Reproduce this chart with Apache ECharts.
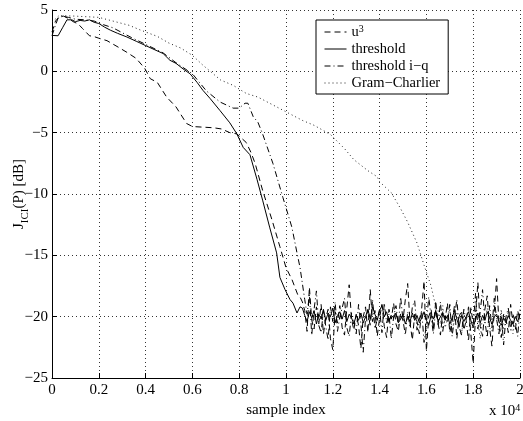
<!DOCTYPE html>
<html>
<head>
<meta charset="utf-8">
<script src="https://cdn.jsdelivr.net/npm/echarts@6/dist/echarts.min.js"></script>
<style>
    html, body { margin: 0; padding: 0; background: #fff; }
    #chart { width: 523px; height: 421px; }
</style>
</head>
<body>
<div id="chart"></div>
<script>
// sample indices shared by the noise floor part of the curves
const noiseX = [
    10700, 10800, 10900, 11000, 11100, 11200, 11300, 11400, 11500, 11600,
    11700, 11800, 11900, 12000, 12100, 12200, 12300, 12400, 12500, 12600,
    12700, 12800, 12900, 13000, 13100, 13200, 13300, 13400, 13500, 13600,
    13700, 13800, 13900, 14000, 14100, 14200, 14300, 14400, 14500, 14600,
    14700, 14800, 14900, 15000, 15100, 15200, 15300, 15400, 15500, 15600,
    15700, 15800, 15900, 16000, 16100, 16200, 16300, 16400, 16500, 16600,
    16700, 16800, 16900, 17000, 17100, 17200, 17300, 17400, 17500, 17600,
    17700, 17800, 17900, 18000, 18100, 18200, 18300, 18400, 18500, 18600,
    18700, 18800, 18900, 19000, 19100, 19200, 19300, 19400, 19500, 19600,
    19700, 19800, 19900, 20000,
]

// u^3 (dashed)
const u3X = [0, 150, 290, 500, 700, 950, 1100, 1300, 1600, 1770, 2000, 2350, 2850, 3200, 3600, 3960, 4200, 4500, 4900, 5300,
    5750, 6000, 6450, 6900, 7250, 7600, 7900, 8300, 8500, 8680, 9000, 9400, 9740, 10000, 10260, 10500, 10600]
const u3Y = [3.2, 4.1, 4.4, 4.5, 4.3, 4.0, 3.9, 3.5, 2.9, 2.85, 2.7, 2.5, 1.95, 1.55, 1.05, 0.25, -0.6, -0.9, -2.1, -2.9,
    -4.25, -4.5, -4.55, -4.6, -4.7, -5.0, -5.1, -5.8, -6.6, -7.5, -9.7, -12.1, -14.3, -16.0, -17.0, -18.2, -18.4]
const u3Noise = [
    -18.8, -19.5, -21.2, -17.6, -20.3, -21.0, -19.2, -20.6, -19.0, -21.4,
    -20.1, -19.4, -21.8, -22.7, -19.6, -20.5, -19.1, -20.9, -21.5, -19.3,
    -17.4, -20.2, -21.1, -19.8, -20.7, -22.6, -20.0, -19.2, -21.3, -17.8,
    -20.4, -19.5, -21.6, -20.1, -19.0, -20.8, -21.7, -19.4, -20.2, -18.9,
    -20.6, -21.2, -19.7, -20.3, -18.6, -17.3, -20.5, -21.9, -19.8, -20.4,
    -21.4, -19.3, -17.1, -22.8, -20.0, -19.4, -21.0, -18.7, -20.6, -21.5,
    -19.6, -20.2, -18.9, -21.3, -20.4, -19.1, -21.8, -20.0, -19.5, -21.1,
    -20.3, -19.2, -21.4, -23.8, -19.9, -17.2, -20.8, -21.6, -19.4, -18.3,
    -20.9, -22.4, -19.6, -16.9, -20.5, -21.7, -19.8, -20.2, -21.3, -19.0,
    -20.6, -21.1, -19.5, -20.3,
]

// threshold (solid)
const thrX = [0, 260, 450, 640, 850, 1000, 1200, 1400, 1600, 1800, 2000, 2250, 2500, 2800, 3200, 3600, 4000, 4400, 4750, 5040,
    5300, 5600, 5900, 6200, 6450, 6750, 7180, 7600, 7900, 8170, 8460, 8760, 9000, 9300, 9600, 9740, 9960, 10170, 10300, 10470, 10600]
const thrY = [2.93, 2.9, 3.55, 4.2, 4.2, 4.05, 4.15, 4.1, 4.2, 4.0, 3.9, 3.6, 3.35, 3.1, 2.8, 2.45, 2.1, 1.75, 1.45, 0.9,
    0.65, 0.2, -0.2, -0.9, -1.55, -2.2, -3.2, -4.2, -5.1, -6.2, -6.8, -8.8, -10.5, -12.7, -14.8, -16.8, -17.8, -18.6, -18.9, -19.7, -19.2]
const thrNoise = [
    -19.3, -19.9, -20.4, -19.6, -20.1, -19.5, -20.6, -19.8, -20.2, -19.4,
    -20.3, -19.7, -20.0, -19.3, -20.5, -19.9, -19.6, -20.2, -19.5, -20.4,
    -19.8, -20.1, -20.6, -19.9, -20.3, -19.7, -20.5, -20.0, -19.4, -20.2,
    -19.2, -19.8, -20.3, -19.5, -19.1, -20.0, -19.6, -20.4, -19.9, -20.1,
    -19.7, -20.5, -20.2, -19.8, -20.6, -20.0, -20.4, -19.7, -20.3, -19.9,
    -20.5, -20.1, -19.6, -20.3, -20.7, -19.9, -20.2, -19.5, -20.4, -20.0,
    -19.7, -20.3, -19.9, -20.6, -20.1, -19.5, -20.2, -20.8, -19.9, -20.4,
    -20.0, -19.6, -20.3, -20.9, -20.2, -19.7, -20.5, -19.9, -20.3, -19.6,
    -20.1, -20.6, -20.0, -19.8, -20.4, -20.7, -20.1, -20.5, -19.9, -20.3,
    -20.6, -20.0, -20.4, -19.8,
]

// threshold i-q (dash-dot)
const iqX = [0, 120, 250, 450, 700, 1000, 1400, 1800, 2200, 2600, 3000, 3400, 4000, 4750, 5300, 6000, 6600, 7180, 7740, 8000,
    8250, 8370, 8600, 8800, 9000, 9440, 9870, 10250, 10470, 10600]
const iqY = [2.9, 3.6, 4.3, 4.5, 4.4, 4.25, 4.2, 4.1, 3.8, 3.55, 3.15, 2.75, 2.2, 1.5, 0.7, -0.2, -1.6, -2.5, -3.0, -3.0,
    -2.6, -2.6, -3.7, -4.15, -5.1, -7.5, -10.3, -12.7, -14.8, -16.0]
const iqNoise = [
    -17.3, -18.6, -19.8, -18.2, -21.5, -19.4, -17.9, -20.7, -21.3, -19.5,
    -20.8, -21.9, -19.2, -20.4, -18.8, -21.2, -20.0, -19.3, -18.5, -20.9,
    -21.6, -19.7, -20.3, -21.4, -19.0, -20.6, -22.9, -20.1, -19.5, -20.8,
    -18.6, -21.0, -20.2, -19.4, -21.3, -18.9, -20.5, -19.8, -21.8, -20.0,
    -19.1, -20.7, -18.4, -20.3, -21.5, -19.6, -20.9, -19.2, -18.7, -21.1,
    -20.2, -19.5, -22.1, -20.6, -18.4, -20.0, -21.4, -19.3, -20.7, -18.8,
    -21.2, -19.9, -20.5, -19.0, -21.6, -20.1, -18.6, -20.8, -21.5, -19.4,
    -20.3, -22.0, -19.2, -20.7, -18.1, -21.0, -19.6, -17.8, -20.4, -21.7,
    -19.1, -20.9, -18.5, -20.2, -21.4, -19.7, -22.3, -20.0, -19.3, -21.1,
    -19.8, -20.5, -21.6, -19.4,
]

// Gram-Charlier (dotted), noise part starts at 16500
const gcX = [0, 300, 1000, 2000, 3000, 3300, 3800, 4500, 5000, 5500, 6000, 6450, 7200, 7750, 8300, 8800, 9300, 10300, 10700, 11200,
    11900, 12500, 12900, 13500, 13900, 14000, 14500, 14900, 15200, 15600, 15900, 16200, 16400]
const gcY = [4.0, 4.55, 4.5, 4.4, 3.9, 3.75, 3.35, 2.85, 2.3, 1.9, 1.3, 0.5, -0.7, -1.15, -1.8, -2.1, -2.6, -3.6, -4.0, -4.4,
    -5.15, -6.3, -7.2, -8.1, -8.6, -9.0, -9.9, -11.2, -12.3, -14.0, -15.8, -17.5, -19.2]
const gcNoiseStart = 16500
const gcNoise = [
    -19.5, -20.6, -19.1, -20.9, -20.2, -19.4, -21.3, -20.0, -19.6, -20.8,
    -21.5, -19.8, -20.3, -19.2, -20.7, -21.0, -19.5, -20.4, -21.8, -19.9,
    -20.5, -19.3, -20.9, -21.2, -19.7, -20.1, -20.8, -19.4, -21.1, -20.3,
    -19.6, -20.7, -21.4, -19.9, -20.5, -20.2,
]

const seriesNames = ['u3', 'threshold', 'threshold i\u2212q', 'Gram\u2212Charlier']

const yTicks = { min: -25, max: 5, step: 5 }
const xTicks = { min: 0, max: 20000, step: 2000 }

const FONT = 'Liberation Serif, Times New Roman, serif'

const joinCurve = (hx, hy, nx, ny) => {
    const pts = hx.map((x, i) => [x, hy[i]])
    nx.forEach((x, i) => pts.push([x, ny[i]]))
    return pts
}

const gcNoiseX = noiseX.slice(noiseX.indexOf(gcNoiseStart))

const curves = [
    { data: joinCurve(u3X, u3Y, noiseX, u3Noise), dash: [6, 4], color: '#000' },
    { data: joinCurve(thrX, thrY, noiseX, thrNoise), dash: 'solid', color: '#000' },
    { data: joinCurve(iqX, iqY, noiseX, iqNoise), dash: [6, 3, 1, 3], color: '#000' },
    { data: joinCurve(gcX, gcY, gcNoiseX, gcNoise), dash: [1, 3], color: '#222' },
]

const minus = (v) => (v < 0 ? '\u2212' + Math.abs(v) : String(v))

const chart = echarts.init(document.getElementById('chart'))

chart.setOption({
    animation: false,
    backgroundColor: '#fff',
    color: ['#000'],
    grid: { left: 52, right: 3, top: 10, bottom: 43, containLabel: false, outerBoundsMode: 'none' },
    legend: {
        orient: 'vertical',
        left: 316,
        top: 20,
        padding: [4, 8, 3, 8],
        itemWidth: 22,
        itemHeight: 14,
        itemGap: 2,
        borderColor: '#000',
        borderWidth: 1,
        backgroundColor: '#fff',
        selectedMode: false,
        data: seriesNames,
        itemStyle: { color: 'transparent', borderWidth: 0, opacity: 0 },
        lineStyle: { width: 1 },
        formatter(name) {
            return name === 'u3' ? '{b|u}{sup|3}' : '{b|' + name + '}'
        },
        textStyle: {
            fontFamily: FONT,
            fontSize: 14.5,
            color: '#000',
            rich: {
                b: { fontFamily: FONT, fontSize: 14.5, color: '#000', lineHeight: 16, verticalAlign: 'bottom' },
                sup: { fontFamily: FONT, fontSize: 10, color: '#000', lineHeight: 10, verticalAlign: 'top' },
            },
        },
    },
    xAxis: {
        type: 'value',
        min: xTicks.min,
        max: xTicks.max,
        interval: xTicks.step,
        name: 'sample index',
        nameLocation: 'middle',
        nameGap: 25,
        nameMoveOverlap: false,
        nameTextStyle: { fontFamily: FONT, fontSize: 15, color: '#000' },
        axisLine: { onZero: false, lineStyle: { color: '#000', width: 1 } },
        axisTick: { inside: true, length: 5, lineStyle: { color: '#000' } },
        axisLabel: {
            fontFamily: FONT,
            fontSize: 15,
            color: '#000',
            margin: 5,
            formatter: (v) => String(v / 10000),
        },
        splitLine: { show: true, lineStyle: { color: '#333', type: [1, 3], width: 1 } },
    },
    yAxis: {
        type: 'value',
        min: yTicks.min,
        max: yTicks.max,
        interval: yTicks.step,
        name: '{m|J}{s|ICI}{m|(P) [dB]}',
        nameLocation: 'middle',
        nameGap: 24,
        nameRotate: 90,
        nameMoveOverlap: false,
        nameTextStyle: {
            fontFamily: FONT,
            fontSize: 15,
            color: '#000',
            rich: {
                m: { fontFamily: FONT, fontSize: 15, color: '#000', lineHeight: 16, verticalAlign: 'top' },
                s: { fontFamily: FONT, fontSize: 11, color: '#000', lineHeight: 11, verticalAlign: 'top', padding: [8, 0, 0, 0] },
            },
        },
        axisLine: { lineStyle: { color: '#000', width: 1 } },
        axisTick: { inside: true, length: 5, lineStyle: { color: '#000' } },
        axisLabel: { fontFamily: FONT, fontSize: 15, color: '#000', margin: 4, formatter: minus },
        splitLine: { show: true, lineStyle: { color: '#333', type: [1, 3], width: 1 } },
    },
    graphic: [
        {
            type: 'text',
            left: 489,
            top: 400,
            style: {
                text: '{a|x 10}{p|4}',
                rich: {
                    a: { fontFamily: FONT, fontSize: 15, fill: '#000', lineHeight: 16, verticalAlign: 'bottom', padding: [4, 0, 0, 0] },
                    p: { fontFamily: FONT, fontSize: 10, fill: '#000', lineHeight: 10, verticalAlign: 'top' },
                },
            },
        },
    ],
    series: curves.map((c, i) => ({
        name: seriesNames[i],
        type: 'line',
        data: c.data,
        symbol: 'none',
        showSymbol: false,
        itemStyle: { color: c.color },
        lineStyle: { color: c.color, width: 1, type: c.dash },
        z: 2 + i,
    })),
})
</script>
</body>
</html>
